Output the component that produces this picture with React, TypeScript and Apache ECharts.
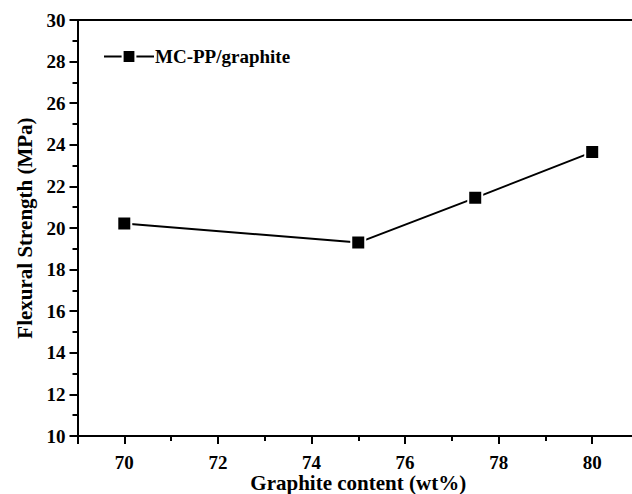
import React, { useEffect, useRef } from "react";
import * as echarts from "echarts";

const seriesName = "MC-PP/graphite";
const xValues = [70, 75, 77.5, 80];
const yValues = [20.22, 19.3, 21.45, 23.65];
const xTitle = "Graphite content (wt%)";
const yTitle = "Flexural Strength (MPa)";

const FONT = '"Liberation Serif", "Times New Roman", serif';

export default function App() {
  const ref = useRef<HTMLDivElement>(null);
  useEffect(() => {
    if (!ref.current) return;
    const chart = echarts.init(ref.current, null, { renderer: "svg" });
    const black = { color: "#000", width: 2 };
    chart.setOption({
      animation: false,
      backgroundColor: "#fff",
      grid: { left: 77.5, top: 20, right: -7, bottom: 58, containLabel: false, outerBoundsMode: "none" },
      legend: {
        left: 98,
        top: 42,
        itemWidth: 50,
        itemHeight: 16,
        textStyle: { fontFamily: FONT, fontWeight: "bold", fontSize: 19, color: "#000", padding: [0, 0, 0, -4] },
        data: [seriesName],
      },
      xAxis: [
        {
          type: "value",
          min: 69,
          max: 81,
          interval: 1,
          name: xTitle,
          nameLocation: "middle",
          nameGap: 37,
          nameMoveOverlap: false,
          nameTextStyle: { fontFamily: FONT, fontWeight: "bold", fontSize: 21, lineHeight: 20, color: "#000" },
          axisLine: { show: true, lineStyle: black },
          axisTick: { show: true, inside: false, length: 5, lineStyle: black },
          splitLine: { show: false },
          axisLabel: {
            fontFamily: FONT,
            fontWeight: "bold",
            fontSize: 19,
            lineHeight: 17,
            color: "#000",
            margin: 18,
            formatter: (v: number) => (v % 2 === 0 ? String(v) : ""),
          },
        },
        {
          type: "value",
          min: 69,
          max: 81,
          position: "bottom",
          axisLine: { show: false },
          axisTick: { show: true, inside: false, length: 8, lineStyle: black },
          axisLabel: { show: false },
          splitLine: { show: false },
        },
        {
          type: "value",
          min: 69,
          max: 81,
          position: "top",
          axisLine: { show: true, lineStyle: black },
          axisTick: { show: false },
          axisLabel: { show: false },
          splitLine: { show: false },
        },
      ],
      yAxis: {
        type: "value",
        min: 10,
        max: 30,
        interval: 2,
        name: yTitle,
        nameLocation: "middle",
        nameGap: 42,
        nameMoveOverlap: false,
        nameTextStyle: { fontFamily: FONT, fontWeight: "bold", fontSize: 21, color: "#000" },
        axisLine: { show: true, lineStyle: black },
        axisTick: { show: true, inside: false, length: 8, lineStyle: black },
        minorTick: { show: true, splitNumber: 2, length: 5, lineStyle: black },
        splitLine: { show: false },
        axisLabel: { fontFamily: FONT, fontWeight: "bold", fontSize: 19, color: "#000", margin: 12 },
      },
      series: [
        {
          name: seriesName,
          type: "line",
          xAxisIndex: 0,
          data: xValues.map((x, i) => [x, yValues[i]]),
          symbol: "rect",
          symbolSize: 14,
          lineStyle: { color: "#000", width: 2 },
          itemStyle: { color: "#000", borderColor: "#fff", borderWidth: 2 },
        },
      ],
    });
    return () => chart.dispose();
  }, []);
  return <div ref={ref} style={{ width: 632, height: 494, position: "absolute", left: 0, top: 0 }} />;
}
